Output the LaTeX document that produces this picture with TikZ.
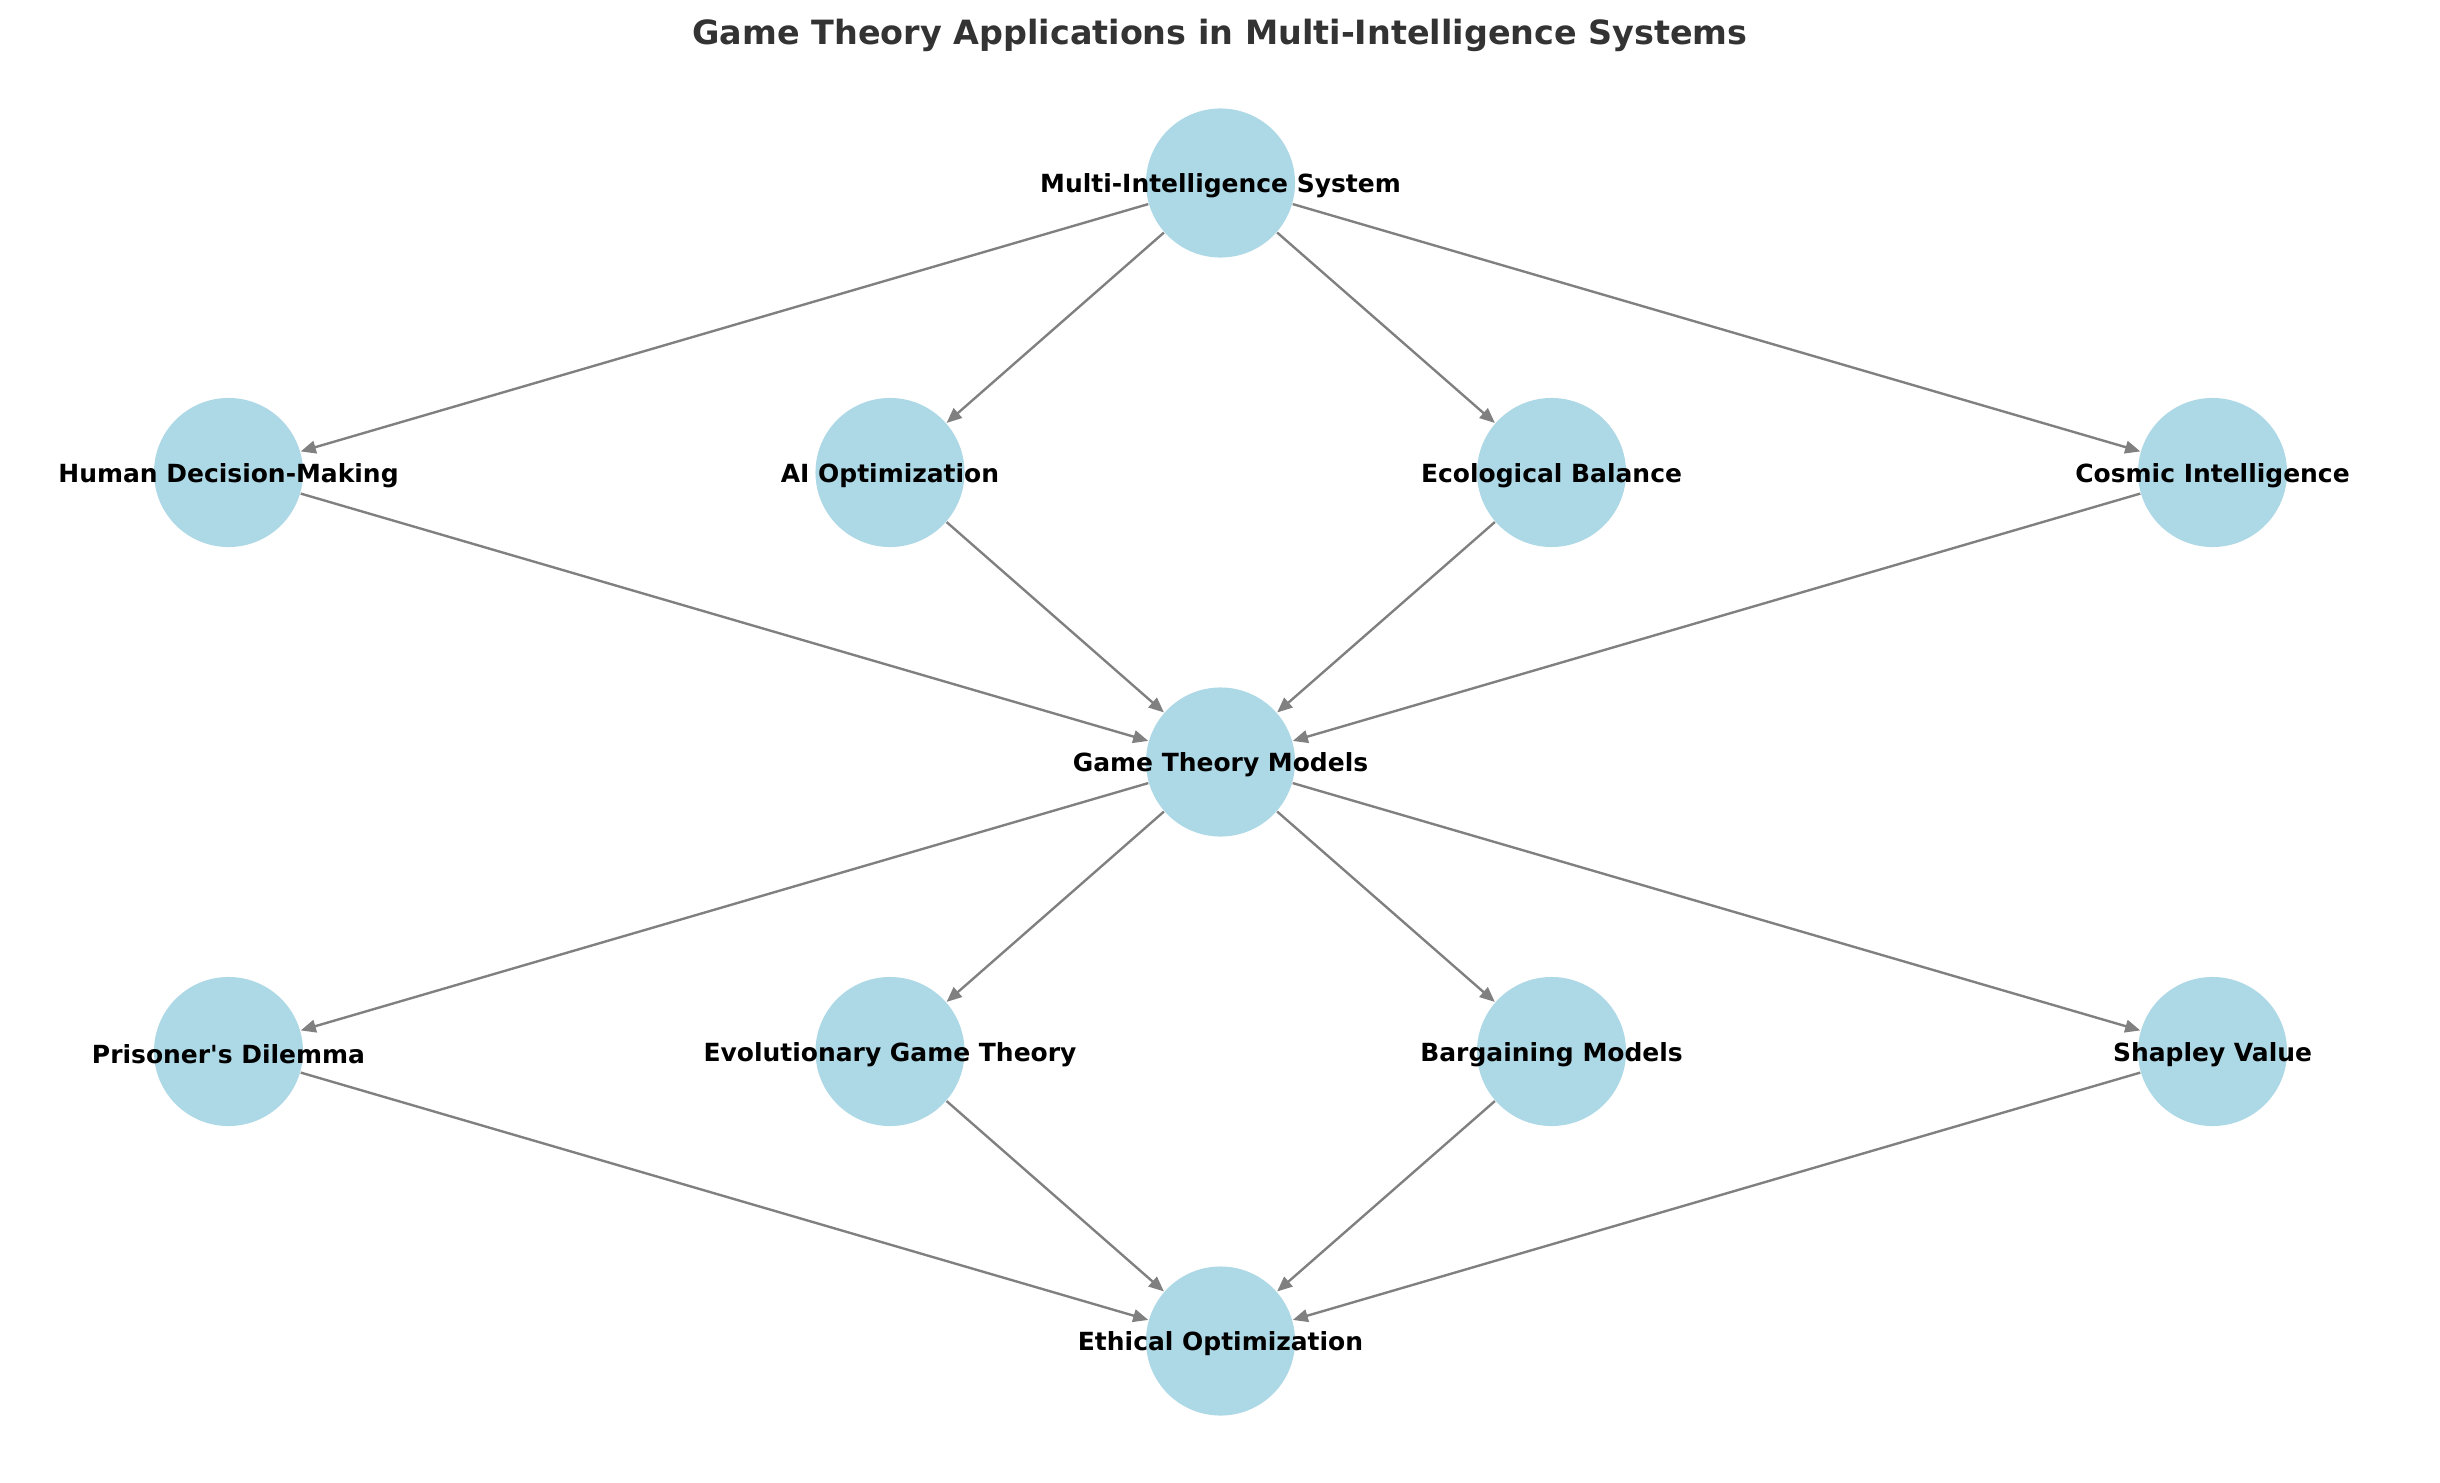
\documentclass[tikz,border=0pt]{standalone}
\usepackage{fontspec}
\setmainfont{DejaVu Sans}
\usetikzlibrary{arrows.meta}
\definecolor{nodeblue}{HTML}{ADD8E6}
\definecolor{edgegray}{HTML}{808080}
\definecolor{titlegray}{HTML}{333333}
\begin{document}
\begin{tikzpicture}[x=0.01cm,y=-0.01cm,
  ball/.style={circle,fill=nodeblue,draw=none,minimum size=1.49cm,inner sep=0pt},
  lbl/.style={inner sep=0pt,anchor=center,yshift=-0.03cm,font=\fontsize{7.1pt}{8.5pt}\selectfont\bfseries,text=black},
  edge/.style={draw=edgegray,line width=0.68pt,-{Triangle[length=4.3pt,width=3.6pt]}}]
\useasboundingbox (0,0) rectangle (2440,1482);
\node[font=\fontsize{9.5pt}{11pt}\selectfont\bfseries,text=titlegray] (title) at (1220,35) {Game Theory Applications in Multi-Intelligence Systems};
% nodes
\node[ball] (mis) at (1220.5,183) {};
\node[ball] (hdm) at (228.5,472.5) {};
\node[ball] (ai) at (890,472.5) {};
\node[ball] (eco) at (1551.5,472.5) {};
\node[ball] (cos) at (2212.5,472.5) {};
\node[ball] (gtm) at (1220.5,762) {};
\node[ball] (pd) at (228.5,1051.5) {};
\node[ball] (egt) at (890,1051.5) {};
\node[ball] (bm) at (1551.5,1051.5) {};
\node[ball] (sv) at (2212.5,1051.5) {};
\node[ball] (eo) at (1220.5,1341) {};
% edges
\foreach \t in {hdm,ai,eco,cos} {
  \draw[edge] (mis) -- (\t);
  \draw[edge] (\t) -- (gtm);
}
\foreach \t in {pd,egt,bm,sv} {
  \draw[edge] (gtm) -- (\t);
  \draw[edge] (\t) -- (eo);
}
% labels
\node[lbl] (lmis) at (mis.center) {Multi-Intelligence System};
\node[lbl] (lhdm) at (hdm.center) {Human Decision-Making};
\node[lbl] (lai) at (ai.center) {AI Optimization};
\node[lbl] (leco) at (eco.center) {Ecological Balance};
\node[lbl] (lcos) at (cos.center) {Cosmic Intelligence};
\node[lbl] (lgtm) at (gtm.center) {Game Theory Models};
\node[lbl] (lpd) at (pd.center) {Prisoner\textquotesingle s Dilemma};
\node[lbl] (legt) at (egt.center) {Evolutionary Game Theory};
\node[lbl] (lbm) at (bm.center) {Bargaining Models};
\node[lbl] (lsv) at (sv.center) {Shapley Value};
\node[lbl] (leo) at (eo.center) {Ethical Optimization};
\end{tikzpicture}
\end{document}
